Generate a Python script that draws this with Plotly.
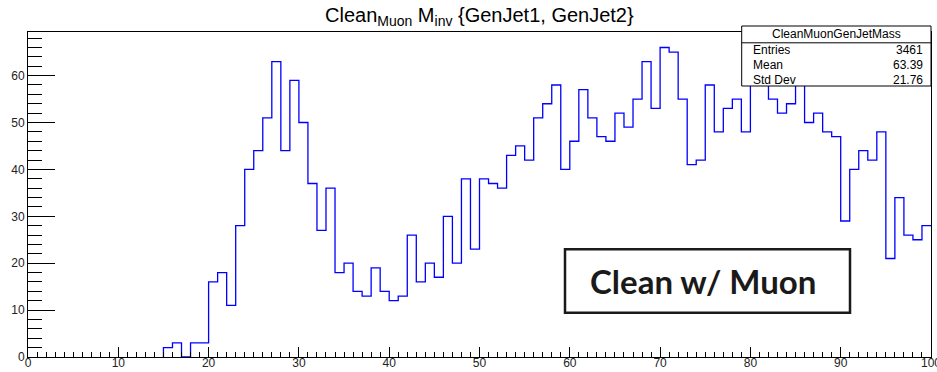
import numpy as np
import plotly.graph_objects as go

# ---------------- data ----------------
bin_edges = list(range(0, 101))          # 100 bins of width 1 from 0 to 100
counts = ([0] * 15 +
          [2, 3, 0, 3, 3,
           16, 18, 11, 28, 40, 44, 51, 63, 44, 59,
           50, 37, 27, 36, 18, 20, 14, 13, 19, 14,
           12, 13, 26, 16, 20, 17, 30, 20, 38, 23,
           38, 37, 36, 43, 45, 42, 51, 54, 58, 40,
           46, 57, 51, 47, 46, 52, 49, 55, 63, 53,
           66, 65, 55, 41, 42, 58, 48, 53, 55, 48,
           61, 64, 55, 52, 54, 62, 50, 52, 48, 47,
           29, 40, 44, 42, 48, 21, 34, 26, 25, 28])
x_tick_vals = [0, 10, 20, 30, 40, 50, 60, 70, 80, 90, 100]
x_tick_text = ["0", "10", "20", "30", "40", "50", "60", "70", "80", "90", "100"]
y_tick_vals = [0, 10, 20, 30, 40, 50, 60]
y_tick_text = ["0", "10", "20", "30", "40", "50", "60"]
hist_name = "CleanMuonGenJetMass"
stat_names = ["Entries", "Mean", "Std Dev"]
stat_values = ["3461", "63.39", "21.76"]
title_text = "Clean<sub>Muon</sub> M<sub>inv</sub> {GenJet1, GenJet2}"
label_text = "Clean w/ Muon"

# ---------------- layout geometry ----------------
W, H = 937, 372
L, R, T, B = 28, 6, 32, 15
PW, PH = W - L - R, H - T - B


def xp(px):
    return (px - L) / PW


def yp(py):
    return 1 - (py - T) / PH


ymax = max(counts) * 1.05

# step outline starting at the first filled bin (empty leading bins lie on the frame)
first = next(i for i, c in enumerate(counts) if c > 0)
step_x = [bin_edges[first]] + bin_edges[first:]
step_y = [0] + counts[first:] + [counts[-1]]

fig = go.Figure()
fig.add_trace(go.Scatter(
    x=step_x,
    y=step_y,
    mode="lines",
    line=dict(shape="hv", color="#0000ff", width=1.3),
    hoverinfo="skip",
    showlegend=False,
))

axis_font = dict(family="Liberation Sans, Arial, sans-serif", size=12, color="#222222")

fig.update_layout(
    width=W, height=H,
    margin=dict(l=L, r=R, t=T, b=B, pad=0),
    paper_bgcolor="white", plot_bgcolor="white",
    showlegend=False,
    xaxis=dict(
        range=[0, 100], showgrid=False, zeroline=False, automargin=False,
        showline=True, mirror=True, linecolor="black", linewidth=1,
        ticks="inside", ticklen=10, tickwidth=1, tickcolor="black",
        tickvals=x_tick_vals, ticktext=x_tick_text, tickfont=axis_font,
        ticklabelstandoff=-5, ticklabeloverflow="allow",
        minor=dict(dtick=1, tick0=0, ticks="inside", ticklen=5,
                   tickwidth=1, tickcolor="black", showgrid=False),
    ),
    yaxis=dict(
        range=[0, ymax], showgrid=False, zeroline=False, automargin=False,
        showline=True, mirror=True, linecolor="black", linewidth=1,
        ticks="inside", ticklen=27, tickwidth=1, tickcolor="black",
        tickvals=y_tick_vals, ticktext=y_tick_text, tickfont=axis_font,
        ticklabeloverflow="allow",
        minor=dict(dtick=2, tick0=0, ticks="inside", ticklen=13.5,
                   tickwidth=1, tickcolor="black", showgrid=False),
    ),
)

shapes = []
annotations = []

# stats box
sx0, sx1, sy0, sy1, ssep = 741.7, 931, 26, 86, 42.8
shapes.append(dict(type="rect", xref="paper", yref="paper",
                   x0=xp(sx0), x1=xp(sx1), y0=yp(sy1), y1=yp(sy0),
                   line=dict(color="black", width=1), fillcolor="white", layer="above"))
shapes.append(dict(type="line", xref="paper", yref="paper",
                   x0=xp(sx0), x1=xp(sx1), y0=yp(ssep), y1=yp(ssep),
                   line=dict(color="black", width=1), layer="above"))
stat_font = dict(family="Liberation Sans, Arial, sans-serif", size=12, color="black")
annotations.append(dict(text=hist_name, xref="paper", yref="paper",
                        x=xp((sx0 + sx1) / 2), y=yp(34.5), xanchor="center", yanchor="middle",
                        showarrow=False, font=stat_font))
row_y = [49.5, 64.5, 79.5]
for name, val, ry in zip(stat_names, stat_values, row_y):
    annotations.append(dict(text=name, xref="paper", yref="paper",
                            x=xp(751), y=yp(ry), xanchor="left", yanchor="middle",
                            showarrow=False, font=stat_font))
    annotations.append(dict(text=val, xref="paper", yref="paper",
                            x=xp(925), y=yp(ry), xanchor="right", yanchor="middle",
                            showarrow=False, font=stat_font))

# title
annotations.append(dict(text=title_text, xref="paper", yref="paper",
                        x=0.5, y=yp(17), xanchor="center", yanchor="middle",
                        showarrow=False,
                        font=dict(family="Liberation Sans, Arial, sans-serif", size=20, color="black")))

# "Clean w/ Muon" label box
bx0, bx1, by0, by1 = 565, 850, 249.3, 312.7
shapes.append(dict(type="rect", xref="paper", yref="paper",
                   x0=xp(bx0), x1=xp(bx1), y0=yp(by1), y1=yp(by0),
                   line=dict(color="#1a1a1a", width=2.5), fillcolor="white", layer="above"))
annotations.append(dict(text="<b>" + label_text + "</b>", xref="paper", yref="paper",
                        x=xp(702.5), y=yp(281), xanchor="center", yanchor="middle",
                        showarrow=False,
                        font=dict(family="Lato, Open Sans, sans-serif", size=33, color="#1a1a1a")))

fig.update_layout(shapes=shapes, annotations=annotations)

fig.write_html("out.html", config={"displayModeBar": False},
               post_script="document.body.style.margin='0';")
